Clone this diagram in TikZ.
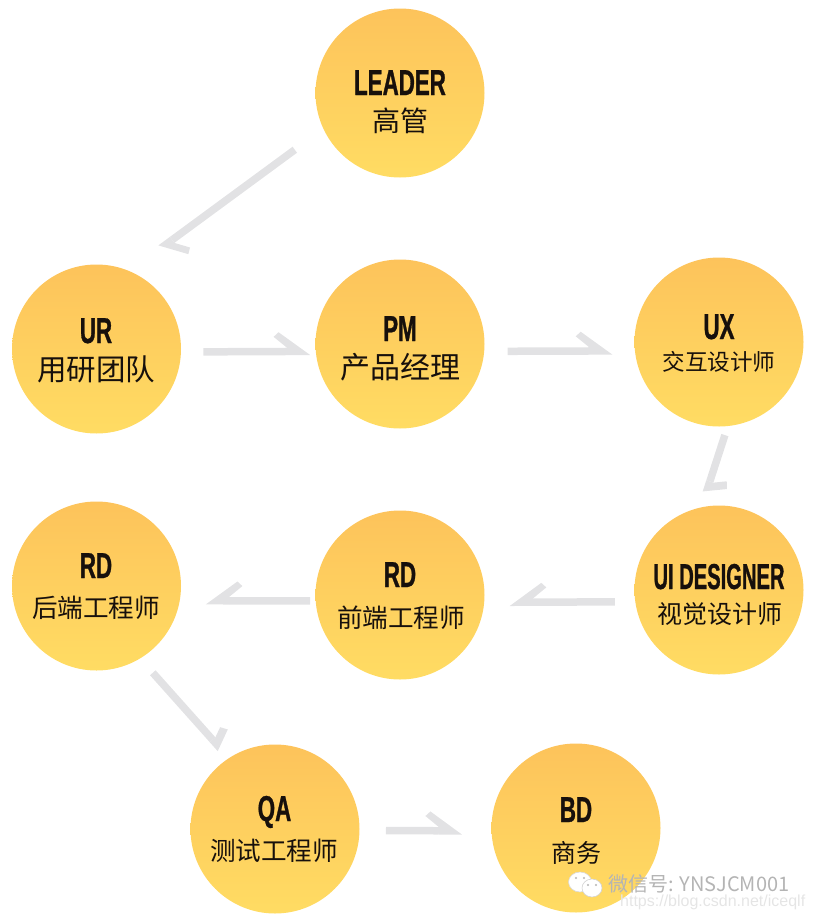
\documentclass[tikz,border=0pt]{standalone}
\usepackage{fontspec}
\setmainfont{Liberation Sans}
\newfontfamily\titlefont[FakeStretch=.62,BoldFeatures={FakeBold=.8}]{Liberation Sans}
\newfontfamily\widetitlefont[FakeStretch=.56,BoldFeatures={FakeBold=.8}]{Liberation Sans}
\newfontfamily\cjk{Noto Sans CJK SC}
\usetikzlibrary{arrows.meta}

\definecolor{discTop}{HTML}{FDC35B}
\definecolor{discBottom}{HTML}{FFDC63}
\definecolor{flow}{HTML}{E2E2E4}
\definecolor{ink}{HTML}{17100C}
\definecolor{stamp}{HTML}{B4B4B4}

% One-sided arrow heads: name, side, outer barb end, inner barb end, where the barb meets the shaft.
\newcommand\declarebarb[7]{%
  \pgfdeclarearrow{name=#1,
    setup code={\pgfarrowssettipend{0pt}\pgfarrowssetlineend{#7pt}%
      \pgfarrowssetbackend{#5pt}\pgfarrowssetvisualbackend{#7pt}},
    drawing code={%
      \pgfpathmoveto{\pgfqpoint{0pt}{#2-3.75pt}}%
      \pgfpathlineto{\pgfqpoint{#3pt}{#2#4pt}}%
      \pgfpathlineto{\pgfqpoint{#5pt}{#2#6pt}}%
      \pgfpathlineto{\pgfqpoint{#7pt}{#23.75pt}}%
      \pgfpathlineto{\pgfqpoint{#7pt}{#2-3.75pt}}%
      \pgfpathclose\pgfusepathqfill}}}
\declarebarb{BarbLeft}{}{-31.7}{19.3}{-36.7}{14.7}{-23.3}
\declarebarb{BarbRight}{-}{-31.7}{19.3}{-36.7}{14.7}{-23.3}
\declarebarb{BarbLong}{}{-19}{21.1}{-24.3}{16.7}{-14.4}
\declarebarb{BarbShort}{}{-9.8}{18.6}{-17.1}{16}{-11.7}
\declarebarb{BarbSteep}{}{-9.5}{18.2}{-16.3}{14}{-11.9}

\begin{document}
\begin{tikzpicture}[x=1pt,y=-1pt,
    disc/.style={circle,minimum size=169pt,inner sep=0pt,outer sep=0pt,top color=discTop,bottom color=discBottom},
    role/.style={font=\titlefont\bfseries\fontsize{36}{36}\selectfont,text=ink,inner sep=0pt,text height=26pt,text depth=0pt},
    post/.style={font=\cjk\fontsize{#1}{#1}\selectfont,text=ink,inner sep=0pt},
    flowline/.style={flow,line width=7.5pt,-{#1[]}}]
  \useasboundingbox (0,0) rectangle (814,921);

  % The nine people; each disc carries its role and its post as separate texts.
  \node[disc] (leader) at (400,93) {};
  \node[disc] (ur) at (96.5,349) {};
  \node[disc] (pm) at (400,344) {};
  \node[disc] (ux) at (719,342) {};
  \node[disc] (ui) at (719,590) {};
  \node[disc] (front) at (400,595) {};
  \node[disc] (back) at (96.5,586) {};
  \node[disc] (qa) at (275,829) {};
  \node[disc] (bd) at (576,828) {};

  \node[role] (leaderrole) at (400,82) {LEADER};
  \node[post=28] (leaderpost) at (400,121) {高管};
  \node[role] (urrole) at (96,330) {UR};
  \node[post=29.5] (urpost) at (96,369) {用研团队};
  \node[role] (pmrole) at (400,328) {PM};
  \node[post=30] (pmpost) at (400,367) {产品经理};
  \node[role] (uxrole) at (719,326) {UX};
  \node[post=22.6] (uxpost) at (719,362) {交互设计师};
  \node[role,font=\widetitlefont\bfseries\fontsize{36}{36}\selectfont] (uirole) at (719,576) {UI DESIGNER};
  \node[post=25] (uipost) at (720,614) {视觉设计师};
  \node[role] (frontrole) at (400,574) {RD};
  \node[post=25.6] (frontpost) at (401,618) {前端工程师};
  \node[role] (backrole) at (96,565) {RD};
  \node[post=25.6] (backpost) at (96,608) {后端工程师};
  \node[role] (qarole) at (274.5,808) {QA};
  \node[post=25.6] (qapost) at (274,851) {测试工程师};
  \node[role] (bdrole) at (576,809) {BD};
  \node[post=25] (bdpost) at (576,853) {商务};

  % Half arrows stop short of the discs they join.
  \draw[flowline=BarbLong,shorten <=35.5pt,shorten >=38.5pt] (leader.205) -- (ur.67);
  \draw[flowline=BarbLeft,shorten <=22.5pt,shorten >=5.5pt] (ur.-2) -- (pm.185.4);
  \draw[flowline=BarbLeft,shorten <=23.5pt,shorten >=22.5pt] (pm.-5.4) -- (ux.186.7);
  \draw[flowline=BarbShort,shorten <=9.5pt,shorten >=15.5pt] (ux.-84) -- (ui.102.8);
  \draw[flowline=BarbRight,shorten <=20.5pt,shorten >=25.5pt] (ui.188.8) -- (front.-5.4);
  \draw[flowline=BarbRight,shorten <=5.5pt,shorten >=26pt] (front.184.7) -- (back.-10.85);
  \draw[flowline=BarbSteep,shorten <=19.2pt,shorten >=12.7pt] (back.-59.2) -- (qa.123.5);
  \draw[flowline=BarbLeft,shorten <=26.5pt,shorten >=29.5pt] (qa.-1.35) -- (bd.182);

  % Watermark in the lower right corner.
  \draw[stamp!50!white,fill=white,line width=.6pt] (580,882) ellipse (11.5 and 10);
  \draw[stamp!60!white,fill=white,line width=.6pt] (592,888) ellipse (10 and 9);
  \fill[stamp] (576,878) circle (1.2) (584,878) circle (1.2) (588,885) circle (1.2) (596,885) circle (1.2);
  \node[font=\cjk\fontsize{20}{20}\selectfont,text=stamp,anchor=west,inner sep=0pt] (wechat) at (608,884) {微信号: YNSJCM001};
  \node[font=\fontsize{16}{16}\selectfont,text=stamp!35!white,anchor=west,inner sep=0pt] (csdn) at (620,902) {https://blog.csdn.net/iceqlf};
\end{tikzpicture}
\end{document}
